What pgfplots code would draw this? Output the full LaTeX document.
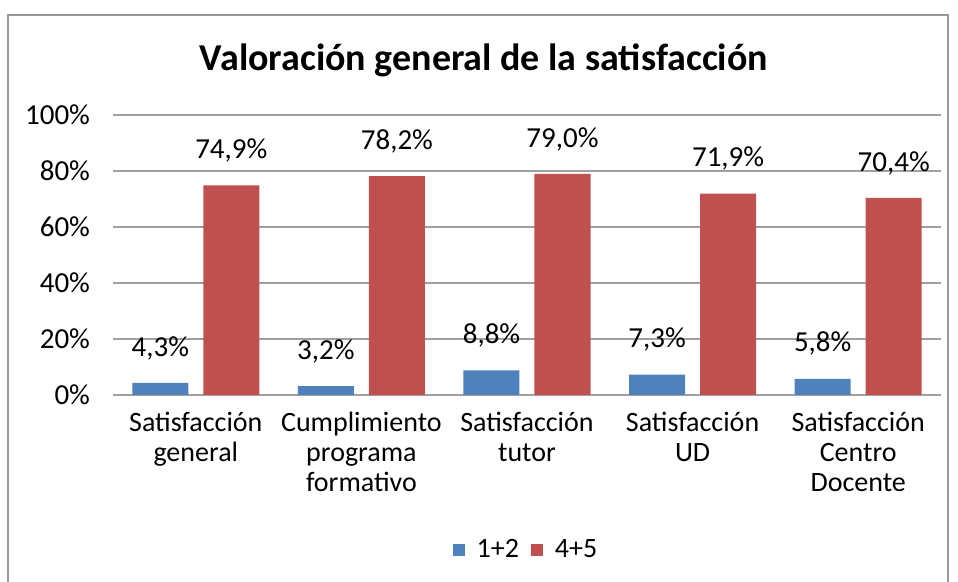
\documentclass[border=0pt]{standalone}
\usepackage{pgfplots}
\pgfplotsset{compat=1.18}
\usepackage{fontspec}
\setmainfont{Carlito}
\definecolor{sblue}{HTML}{4F81BD}
\definecolor{sred}{HTML}{C0504D}
\definecolor{grid}{HTML}{A0A0A0}
\begin{document}
\begin{tikzpicture}
\useasboundingbox (0,0) rectangle (479pt,291pt);
\draw[color=gray!80, line width=0.8pt] (4pt,0) -- (4pt,283.5pt) -- (474pt,283.5pt) -- (474pt,0);
\node[font=\fontsize{19}{22}\selectfont\bfseries] at (242pt,261pt) {Valoración general de la satisfacción};
\begin{axis}[
  at={(56.5pt,93.5pt)}, anchor=south west,
  scale only axis, width=414pt, height=140pt,
  ybar=7.5pt, bar width=28pt,
  xmin=-0.5, xmax=4.5, ymin=0, ymax=100,
  xtick=data,
  xticklabels={{Satisfacción\\general},{Cumplimiento\\programa\\formativo},{Satisfacción\\tutor},{Satisfacción\\UD},{Satisfacción\\Centro\\Docente}},
  xticklabel style={align=center, font=\fontsize{14}{15}\selectfont, yshift=-5pt},
  ytick={0,20,40,60,80,100},
  yticklabel={\pgfmathprintnumber{\tick}\%},
  yticklabel style={font=\fontsize{14.5}{15}\selectfont, xshift=-8pt},
  /pgf/number format/assume math mode=true,
  ymajorgrids=true, xmajorgrids=false,
  y grid style={grid, line width=0.7pt},
  axis x line*=bottom, axis y line*=left,
  x axis line style={grid, line width=0.7pt, -},
  y axis line style={draw=none},
  major tick length=0pt,
  nodes near coords={\pgfmathprintnumber[fixed,fixed zerofill,precision=1,use comma]{\pgfplotspointmeta}\%},
  every node near coord/.append style={font=\fontsize{14.5}{15}\selectfont, color=black, anchor=south, yshift=8pt, /pgf/number format/assume math mode=true},
  legend style={at={(0.5,-0.554)}, anchor=center, legend columns=2, draw=none, font=\fontsize{14}{15}\selectfont, column sep=4pt},
  legend image code/.code={\fill[#1] (0pt,-3pt) rectangle (6pt,3pt);},
]
\addplot[fill=sblue, draw=none] coordinates {(0,4.3) (1,3.2) (2,8.8) (3,7.3) (4,5.8)};
\addplot[fill=sred, draw=none] coordinates {(0,74.9) (1,78.2) (2,79.0) (3,71.9) (4,70.4)};
\legend{1+2,4+5}
\end{axis}
\end{tikzpicture}
\end{document}
